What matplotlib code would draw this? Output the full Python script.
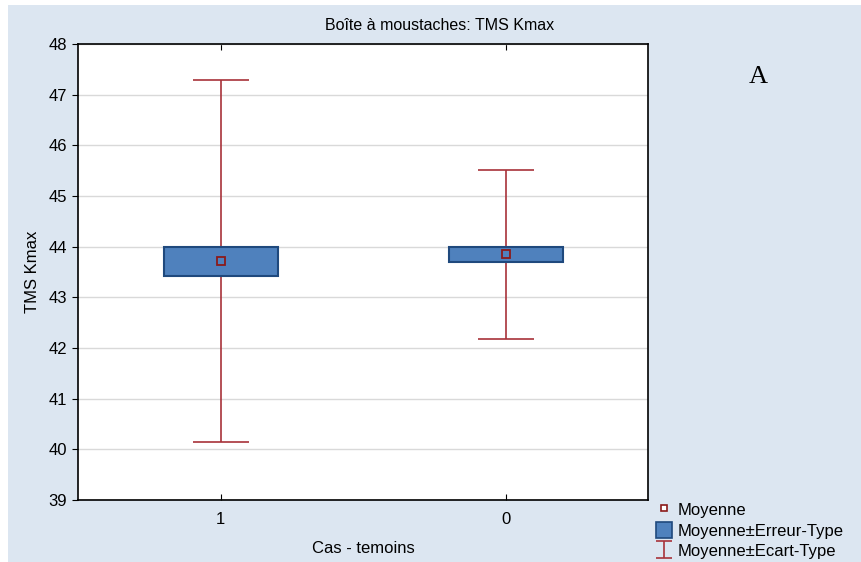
import numpy as np
import matplotlib.pyplot as plt
from matplotlib.patches import Rectangle, Patch
from matplotlib.lines import Line2D

# donnees
groupes = ['1', '0']
moyennes = [43.71, 43.85]
erreur_type = [0.29, 0.15]
ecart_type = [3.57, 1.67]

fond = '#dce6f1'
bleu = '#4f81bd'
bleu_bord = '#1f497d'
rouge = '#a8323a'
rouge_fonce = '#8b1a1a'

plt.rcParams['font.family'] = ['Liberation Sans', 'DejaVu Sans']

fig = plt.figure(figsize=(8.61, 5.62), dpi=100, facecolor='white')
# cadre bleu clair (petite marge blanche en haut et a gauche)
fig.patches.append(Rectangle((8 / 861, 0), 1, 1 - 5 / 562, transform=fig.transFigure,
                             facecolor=fond, edgecolor='none', zorder=-10))

ax = fig.add_axes([78 / 861, 1 - 500 / 562, 570 / 861, 456 / 562])
ax.set_facecolor('white')

x = np.arange(len(groupes))
largeur = 0.4

# boites moyenne +/- erreur-type
ax.bar(x, 2 * np.array(erreur_type), bottom=np.array(moyennes) - np.array(erreur_type),
       width=largeur, color=bleu, edgecolor=bleu_bord, linewidth=1.5, zorder=3)

# moustaches moyenne +/- ecart-type
ax.errorbar(x, moyennes, yerr=ecart_type, fmt='none', ecolor=rouge, elinewidth=1.2,
            capsize=20, capthick=1.2, zorder=2)

# moyennes
ax.plot(x, moyennes, 's', markersize=6, markerfacecolor='none',
        markeredgecolor=rouge_fonce, markeredgewidth=1.3, zorder=4)

ax.set_xlim(-0.5, 1.5)
ax.set_ylim(39, 48)
ax.set_xticks(x)
ax.set_xticklabels(groupes)
ax.set_yticks(np.arange(39, 49))
ax.grid(axis='y', color='#d9d9d9', linewidth=1, zorder=0)
ax.set_axisbelow(True)
ax.tick_params(axis='y', direction='out', length=4, labelsize=12, pad=4)
ax.tick_params(axis='x', direction='in', length=4, labelsize=12, pad=9, top=True)
for s in ax.spines.values():
    s.set_color('black')
    s.set_linewidth(1.2)

ax.set_xlabel('Cas - temoins', fontsize=12, labelpad=10)
ax.set_ylabel('TMS Kmax', fontsize=12, labelpad=6)
fig.text(440 / 861, 1 - 25 / 562, 'Boîte à moustaches: TMS Kmax', ha='center', va='center',
         fontsize=11.5)
fig.text(758 / 861, 1 - 77 / 562, 'A', ha='center', va='center', fontsize=19,
         family='Liberation Serif')

# legende
h_moy = Line2D([], [], marker='s', linestyle='none', markersize=5, markerfacecolor='white',
               markeredgecolor=rouge_fonce, markeredgewidth=1.2)
h_se = Patch(facecolor=bleu, edgecolor=bleu_bord, linewidth=1.2)
h_sd = ax.errorbar([np.nan], [np.nan], yerr=[1], fmt='none', ecolor=rouge, elinewidth=1.2,
                   capsize=6, capthick=1.2)
fig.legend([h_moy, h_se, h_sd], ['Moyenne', 'Moyenne±Erreur-Type', 'Moyenne±Ecart-Type'],
           loc='upper left', bbox_to_anchor=(644 / 861, 1 - 490 / 562), frameon=False,
           fontsize=12, handlelength=1.0, handleheight=1.1, handletextpad=0.3,
           labelspacing=0.22, borderpad=0.2)

fig.savefig('out.png', dpi=100, facecolor=fig.get_facecolor())
